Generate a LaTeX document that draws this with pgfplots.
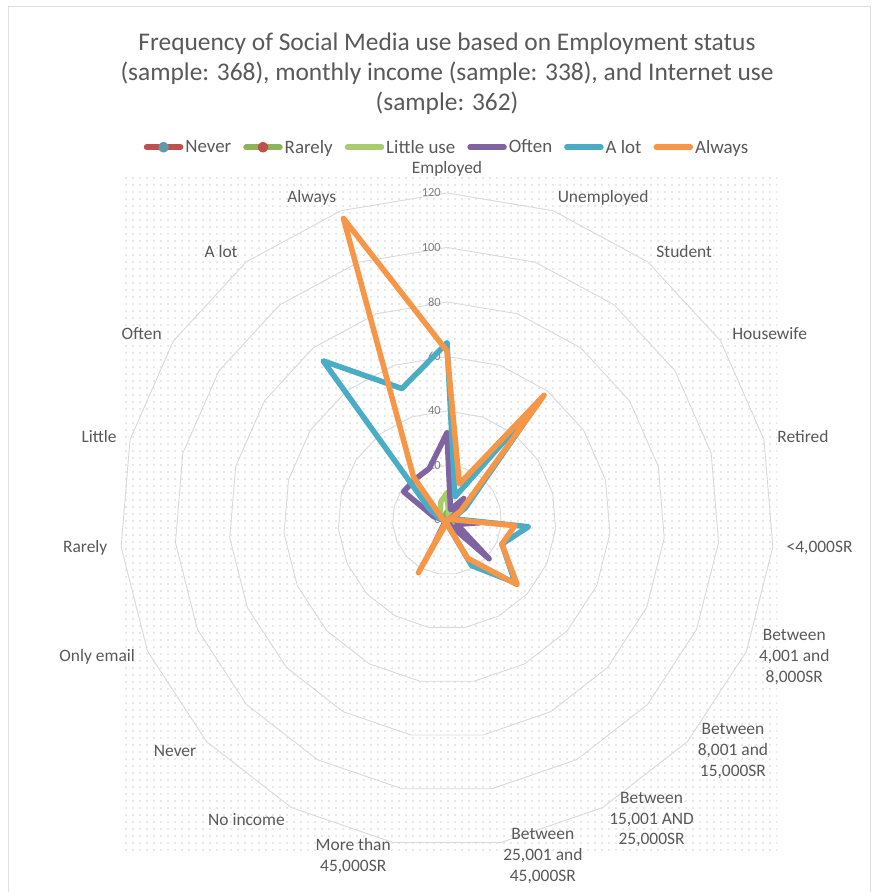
\documentclass[border=0pt]{standalone}
\usepackage{fontspec}
\setmainfont{Carlito}
\usepackage{pgfplots}
\pgfplotsset{compat=1.18}
\usepackage{pgfplotstable}
\usepgfplotslibrary{polar}
\usetikzlibrary{patterns}
\definecolor{cNever}{HTML}{C0504D}
\definecolor{cRarely}{HTML}{8FB35A}
\definecolor{cLittle}{HTML}{A9CC6E}
\definecolor{cOften}{HTML}{8064A2}
\definecolor{cAlot}{HTML}{4BACC6}
\definecolor{cAlways}{HTML}{F79646}
\definecolor{txt}{HTML}{595959}
\definecolor{gridc}{HTML}{D9D9D9}
\pgfdeclarepatternformonly{mydots}{\pgfqpoint{-1bp}{-1bp}}{\pgfqpoint{1bp}{1bp}}{\pgfqpoint{7bp}{7bp}}{\pgfpathcircle{\pgfqpoint{0bp}{0bp}}{0.6bp}\pgfusepath{fill}}
\tikzset{
  lbl/.style={text=txt, font=\fontsize{17.5}{21}\selectfont, align=center, inner sep=0pt},
  tl/.style={text=black!50, font=\fontsize{12.5}{14}\selectfont, anchor=east, inner sep=0pt, xshift=-6bp},
}

% angle, then the six series (values per category, clockwise from Employed)
\pgfplotstableread{
ang     never rarely little often alot always
90      2     3      10     32    65   62
71.053  1     1      2      4     9    14
52.105  1     2      6      10    54   58
33.158  1     1      2      3     8    6
14.211  0     0      0      1     2    1
355.263 1     2      5      12    30   25
336.316 1     1      4      4     22   22
317.368 0     1      3      21    34   35
298.421 0     0      1      2     19   16
279.474 0     0      0      1     2    2
260.526 0     0      0      1     0    1
241.579 1     1      2      9     3    22
222.632 1     0      0      1     0    0
203.684 0     0      0      1     1    1
184.737 0     1      1      1     1    1
165.789 0     1      3      5     3    2
146.842 0     1      3      19    8    3
127.895 0     1      4      19    74   20
108.947 1     2      7      20    51   117
90      2     3      10     32    65   62
}\datatab

\pgfplotstableread{
ang     g20 g40 g60 g80 g100 g120
90      20  40  60  80  100  120
71.053  20  40  60  80  100  120
52.105  20  40  60  80  100  120
33.158  20  40  60  80  100  120
14.211  20  40  60  80  100  120
355.263 20  40  60  80  100  120
336.316 20  40  60  80  100  120
317.368 20  40  60  80  100  120
298.421 20  40  60  80  100  120
279.474 20  40  60  80  100  120
260.526 20  40  60  80  100  120
241.579 20  40  60  80  100  120
222.632 20  40  60  80  100  120
203.684 20  40  60  80  100  120
184.737 20  40  60  80  100  120
165.789 20  40  60  80  100  120
146.842 20  40  60  80  100  120
127.895 20  40  60  80  100  120
108.947 20  40  60  80  100  120
90      20  40  60  80  100  120
}\gridtab

\begin{document}
\begin{tikzpicture}
\useasboundingbox (0,0) rectangle (878bp,892bp);
\fill[white] (0,0) rectangle (878bp,892bp);
\draw[gray!25, line width=0.8bp] (8bp,0) -- (8bp,886bp) -- (870bp,886bp) -- (870bp,0);
\fill[pattern=mydots, pattern color=black!38] (123bp,37bp) rectangle (777bp,717bp);
\node[align=center, text=txt, font=\fontsize{25.5}{30}\selectfont] at (447bp,818bp)
  {Frequency of Social Media use based on Employment status\\(sample: 368), monthly income (sample: 338), and Internet use\\(sample: 362)};
\begin{polaraxis}[
  at={(447bp,372bp)}, anchor=center,
  scale only axis, width=654bp, height=654bp,
  xmin=0, xmax=360, ymin=0, ymax=120,
  hide axis, clip=false,
  legend columns=6,
  legend style={at={(0.5,1.07)}, anchor=center, draw=none, fill=none,
    font=\fontsize{19}{22}\selectfont, text=txt,
    /tikz/every even column/.append style={column sep=10bp}},
  legend image code/.code={\draw[mark repeat=2,mark phase=2,#1] plot coordinates {(0bp,0bp) (17bp,0bp) (34bp,0bp)};},
  every axis plot/.append style={line join=round, line cap=round},
]
% polygonal gridlines
\addplot[gridc, line width=0.9bp, forget plot] table[x=ang, y=g20] {\gridtab};
\addplot[gridc, line width=0.9bp, forget plot] table[x=ang, y=g40] {\gridtab};
\addplot[gridc, line width=0.9bp, forget plot] table[x=ang, y=g60] {\gridtab};
\addplot[gridc, line width=0.9bp, forget plot] table[x=ang, y=g80] {\gridtab};
\addplot[gridc, line width=0.9bp, forget plot] table[x=ang, y=g100] {\gridtab};
\addplot[gridc, line width=0.9bp, forget plot] table[x=ang, y=g120] {\gridtab};
% radial tick labels
\node[tl] at (axis cs:90,0) {0};
\node[tl] at (axis cs:90,20) {20};
\node[tl] at (axis cs:90,40) {40};
\node[tl] at (axis cs:90,60) {60};
\node[tl] at (axis cs:90,80) {80};
\node[tl] at (axis cs:90,100) {100};
\node[tl] at (axis cs:90,120) {120};
% legend images
\addlegendimage{cNever, line width=5.5bp, mark=*, mark size=2.5bp, mark options={fill=cAlot!60!gray, draw=cAlot!60!gray}}
\addlegendentry{Never}
\addlegendimage{cRarely, line width=5.5bp, mark=*, mark size=2.5bp, mark options={fill=cNever, draw=cNever}}
\addlegendentry{Rarely}
\addlegendimage{cLittle, line width=5.5bp}
\addlegendentry{Little use}
\addlegendimage{cOften, line width=5.5bp}
\addlegendentry{Often}
\addlegendimage{cAlot, line width=5.5bp}
\addlegendentry{A lot}
\addlegendimage{cAlways, line width=5.5bp}
\addlegendentry{Always}
% data series
\addplot[cNever, line width=5.5bp, forget plot] table[x=ang, y=never] {\datatab};
\addplot[cRarely, line width=5.5bp, forget plot] table[x=ang, y=rarely] {\datatab};
\addplot[cLittle, line width=5.5bp, forget plot] table[x=ang, y=little] {\datatab};
\addplot[cOften, line width=5.5bp, forget plot] table[x=ang, y=often] {\datatab};
\addplot[cAlot, line width=5.5bp, forget plot] table[x=ang, y=alot] {\datatab};
\addplot[cAlways, line width=5.5bp, forget plot] table[x=ang, y=always] {\datatab};
% category labels
\node[lbl, anchor=south] at (axis cs:90,126) {Employed};
\node[lbl, anchor=west] at (axis cs:71.053,125) {Unemployed};
\node[lbl, anchor=west] at (axis cs:52.105,125) {Student};
\node[lbl, anchor=west] at (axis cs:33.158,125) {Housewife};
\node[lbl, anchor=west] at (axis cs:14.211,125) {Retired};
\node[lbl, anchor=west] at (axis cs:355.263,125) {<4,000SR};
\node[lbl, anchor=west] at (axis cs:336.316,125) {Between\\4,001 and\\8,000SR};
\node[lbl, anchor=west] at (axis cs:317.368,125) {Between\\8,001 and\\15,000SR};
\node[lbl, anchor=west] at (axis cs:298.421,125) {Between\\15,001 AND\\25,000SR};
\node[lbl, anchor=west] at (axis cs:279.474,125) {Between\\25,001 and\\45,000SR};
\node[lbl, anchor=east] at (axis cs:260.526,125) {More than\\45,000SR};
\node[lbl, anchor=east] at (axis cs:241.579,125) {No income};
\node[lbl, anchor=east] at (axis cs:222.632,125) {Never};
\node[lbl, anchor=east] at (axis cs:203.684,125) {Only email};
\node[lbl, anchor=east] at (axis cs:184.737,125) {Rarely};
\node[lbl, anchor=east] at (axis cs:165.789,125) {Little};
\node[lbl, anchor=east] at (axis cs:146.842,125) {Often};
\node[lbl, anchor=east] at (axis cs:127.895,125) {A lot};
\node[lbl, anchor=east] at (axis cs:108.947,125) {Always};
\end{polaraxis}
\end{tikzpicture}
\end{document}
